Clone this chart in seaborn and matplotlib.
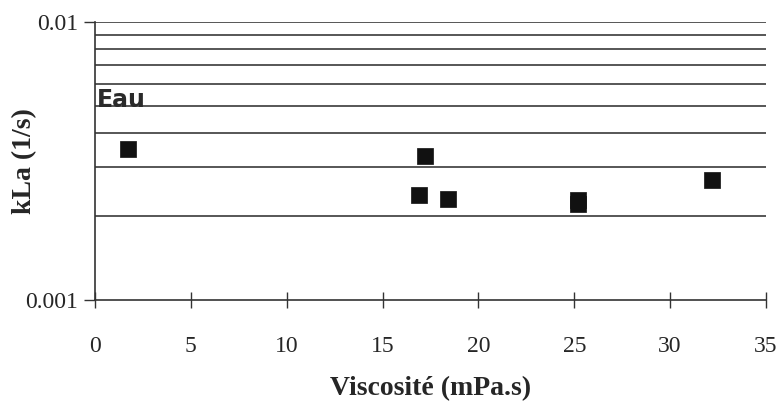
import numpy as np
import pandas as pd
import matplotlib
matplotlib.use("Agg")
import matplotlib.pyplot as plt
import matplotlib.ticker as mticker
import seaborn as sns

# Données
viscosite = [1.7, 17.2, 16.9, 18.4, 25.2, 25.2, 32.2]
kla = [0.00349, 0.00330, 0.00239, 0.00231, 0.00229, 0.00222, 0.00270]
x_ticks = [0, 5, 10, 15, 20, 25, 30, 35]
y_ticks = [0.001, 0.01]
y_tick_labels = ["0.001", "0.01"]
grid_levels = [0.002, 0.003, 0.004, 0.005, 0.006, 0.007, 0.008, 0.009, 0.01]

df = pd.DataFrame({"viscosite": viscosite, "kla": kla})

sns.set_style("white")
plt.rcParams["font.family"] = ["Liberation Serif", "DejaVu Serif"]

fig = plt.figure(figsize=(7.8, 4.03), dpi=100)
ax = fig.add_axes([0.1218, 0.2556, 0.8602, 0.6898])

# lignes horizontales
for g in grid_levels:
    ax.axhline(g, color="#3a3a3a", lw=1.2, zorder=1)

sns.scatterplot(data=df, x="viscosite", y="kla", marker="s", s=120,
                color="#111111", edgecolor="#111111", linewidth=0.5, ax=ax, zorder=3)

ax.set_yscale("log")
ax.set_xlim(0, 35)
ax.set_ylim(0.001, 0.01)
ax.set_yticks(y_ticks)
ax.set_yticklabels(y_tick_labels)
ax.yaxis.set_minor_locator(mticker.NullLocator())
ax.set_xticks(x_ticks)

ax.spines["top"].set_visible(False)
ax.spines["right"].set_visible(False)
ax.spines["left"].set_color("#333333")
ax.spines["bottom"].set_color("#333333")
ax.spines["left"].set_linewidth(1.2)
ax.spines["bottom"].set_linewidth(1.2)

ax.tick_params(axis="x", bottom=True, direction="inout", length=12, width=1,
               color="#333333", labelsize=17, pad=20)
ax.tick_params(axis="y", left=True, direction="out", length=8, width=1,
               color="#333333", labelsize=17, pad=4)

ax.set_xlabel("Viscosité (mPa.s)", fontsize=20, fontweight="bold")
ax.set_ylabel("kLa (1/s)", fontsize=20, fontweight="bold")
ax.xaxis.set_label_coords(0.5, -0.275)
ax.yaxis.set_label_coords(-0.086, 0.5)

ax.text(0.1, 0.00522, "Eau", fontsize=17, fontweight="bold", color="#2a2a2a",
        family=["DejaVu Sans"], va="center", ha="left", zorder=4)

fig.savefig("out.png", dpi=100)
